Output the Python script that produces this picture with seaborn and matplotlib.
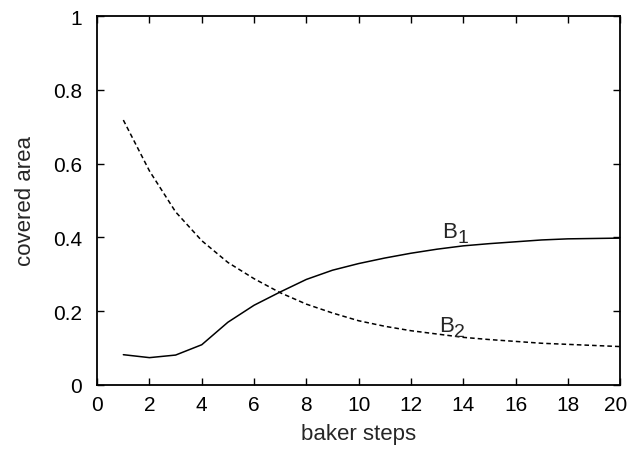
import matplotlib
matplotlib.use("Agg")
import matplotlib.pyplot as plt
import matplotlib.transforms as mtransforms
import seaborn as sns
import pandas as pd

# data
steps = list(range(1, 21))
b1 = [0.082, 0.074, 0.081, 0.109, 0.170, 0.216, 0.252, 0.286, 0.311, 0.329,
      0.344, 0.357, 0.368, 0.377, 0.383, 0.388, 0.393, 0.396, 0.397, 0.398]
b2 = [0.718, 0.580, 0.469, 0.391, 0.332, 0.288, 0.250, 0.219, 0.195, 0.174,
      0.159, 0.147, 0.138, 0.129, 0.123, 0.118, 0.113, 0.110, 0.107, 0.104]
xticks = list(range(0, 21, 2))
yticks = [0, 0.2, 0.4, 0.6, 0.8, 1]
ylabels = ['0', '0.2', '0.4', '0.6', '0.8', '1']

sns.set_style("ticks")
plt.rcParams['font.family'] = ['Liberation Sans', 'DejaVu Sans']

df = pd.DataFrame({'steps': steps + steps,
                   'area': b1 + b2,
                   'curve': ['B1'] * len(b1) + ['B2'] * len(b2)})

fig = plt.figure(figsize=(6.27, 4.60), dpi=100)
ax = fig.add_axes([0.155, 0.161, 0.834, 0.802])

sns.lineplot(data=df, x='steps', y='area', style='curve',
             dashes={'B1': '', 'B2': (3, 2)}, color='black', linewidth=1.1,
             legend=False, ax=ax)

ax.set_xlim(0, 20)
ax.set_ylim(0, 1)
ax.set_xticks(xticks)
ax.set_yticks(yticks)
ax.set_yticklabels(ylabels)
ax.tick_params(direction='in', length=5, width=1, top=True, right=True,
               labelsize=15, colors='black')
ax.tick_params(axis='x', pad=7)
ax.tick_params(axis='y', pad=11)
for s in ax.spines.values():
    s.set_linewidth(1.3)
    s.set_visible(True)
    s.set_color('black')

# nudge the last x label so it stays on the canvas
last = ax.get_xticklabels()[-1]
last.set_transform(last.get_transform() +
                   mtransforms.ScaledTranslation(-3 / 72, 0, fig.dpi_scale_trans))

ax.set_xlabel('baker steps', fontsize=16, labelpad=7)
ax.set_ylabel('covered area', fontsize=16, labelpad=12)

# curve labels, with a large subscript as in the original
ax.text(13.2, 0.40, 'B', fontsize=16, ha='left', va='baseline')
ax.text(13.77, 0.388, '1', fontsize=14, ha='left', va='baseline')
ax.text(13.08, 0.146, 'B', fontsize=16, ha='left', va='baseline')
ax.text(13.63, 0.133, '2', fontsize=14, ha='left', va='baseline')

fig.savefig('out.png', dpi=100)
